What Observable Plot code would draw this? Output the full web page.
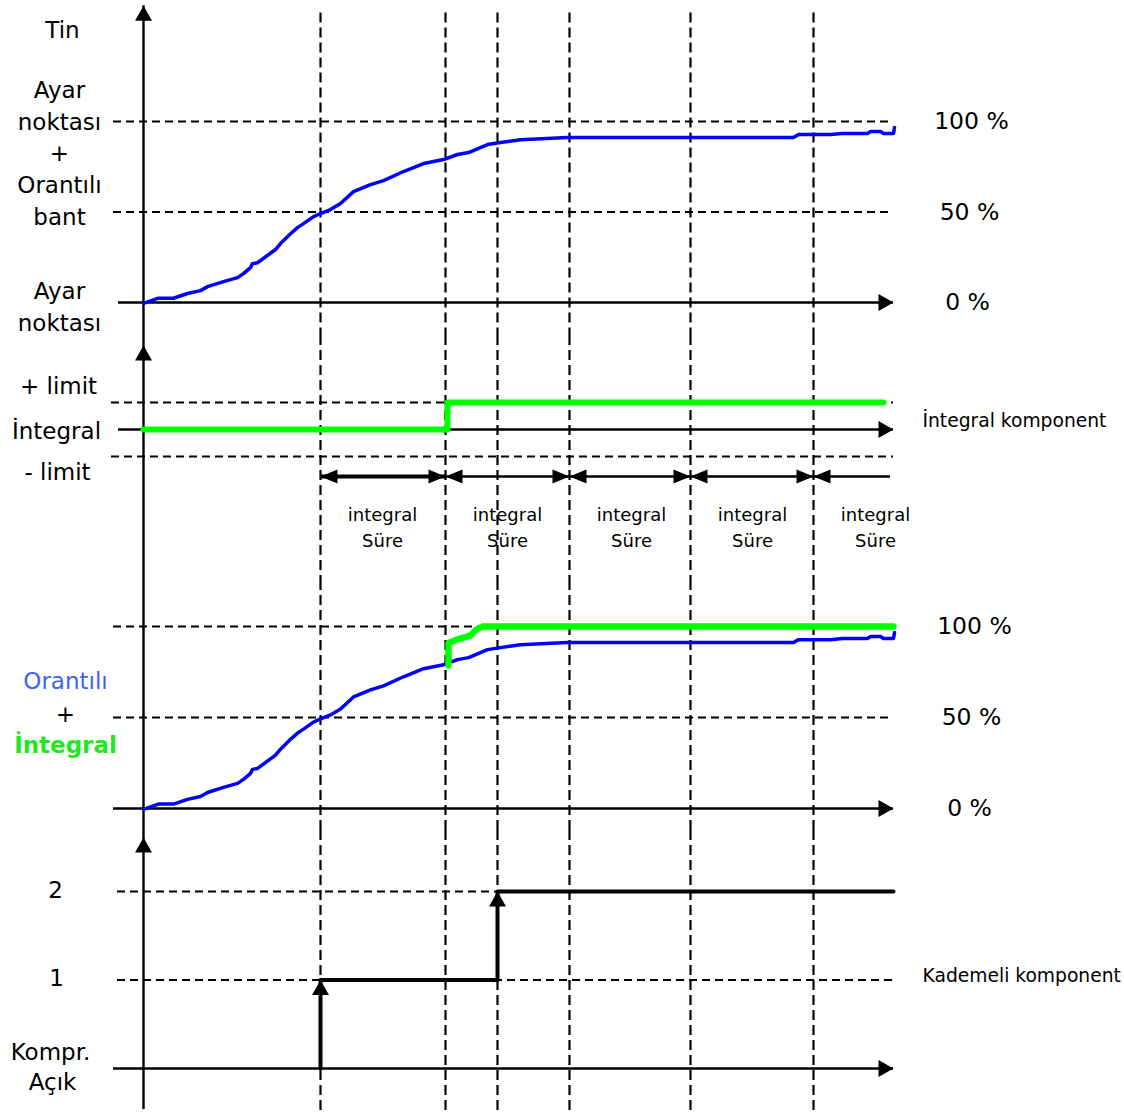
<!DOCTYPE html>
<html><head><meta charset="utf-8">
<script src="https://cdn.jsdelivr.net/npm/d3@7"></script>
<script src="https://cdn.jsdelivr.net/npm/@observablehq/plot@0.6"></script>
<style>
body{margin:0;background:#fff;}
#chart{width:1124px;}
#chart svg{display:block;}
</style></head><body><div id="chart"></div>
<script>
// ---------- data (time t in s from start, values in % or units) ----------
const gridTimes = [177, 302, 354, 426, 547, 670];          // vertical dashed lines
const periodBounds = [177, 302, 426, 547, 670, 747];       // integral time periods
const integralTime = 124;
const tEnd = 750;
const pctTicks = [0, 50, 100];
const pctLabels = ["0 %", "50 %", "100 %"];
const limitTicks = [-1, 1];
const stageTicks = [1, 2];

// Tin (proportional) response, %
const tinCurve = [[0,-0.5],[15,2.4],[30,2.4],[44,5],[57,6.6],[64,8.8],[80,11.6],[94,13.8],[100,16],[107,19.3],[109,21.5],[114,22],[132,29.3],[137,32.6],[147,38],[154,41.4],[160,43.6],[170,47.5],[177,49.2],[187,51.4],[197,54.7],[210,61.3],[227,65.2],[240,67.4],[260,72.4],[280,76.8],[300,79],[314,81.8],[325,82.9],[344,87.3],[357,88.4],[377,90],[424,91.2],[650,91.2],[655,92.8],[687,92.8],[699,93.4],[724,93.4],[727,94.5],[737,94.5],[740,93.4],[750,93.4],[751,96.7]];
// Integral component (limit units)
const integralStep = [[0,0],[304,0],[304,1],[740,1]];
// Proportional + integral, %
const piCurve = [[305,78.6],[305,91],[314,93],[327,95],[332,98],[339,100],[750,100]];
// Stage (compressor) steps
const stageSteps = [[177,0],[177,1],[354,1],[354,2],[750,2]];
const stageArrows = [[177,1],[354,2]];

// labels
const p1Left = [["Tin",-81,150.3],["Ayar",-84,117.1],["noktası",-84,99.4],["+",-84,82.3],["Orantılı",-84,64.6],["bant",-84,47],["Ayar",-84,6.1],["noktası",-84,-11.6]];
const p2Left = [["+ limit",-85,1.59],["İntegral",-87,-0.07],["- limit",-86,-1.59]];
const p4Left = [["2",-88,2.01],["1",-87,1.02],["Kompr.",-93,0.18],["Açık",-91,-0.16]];

// ---------- helpers ----------
const FONT = "DejaVu Sans";
const W = 1124, tDomain = [-143, 981];
const head = (L, w) => ({draw(ctx){ctx.moveTo(0,0);ctx.lineTo(-w,L);ctx.lineTo(w,L);ctx.closePath();}});
const bigHead = head(15, 8.5), smallHead = head(17, 7);
const dash = {stroke:"black", strokeWidth:2, strokeDasharray:"8,5"};
const vdash = {stroke:"black", strokeWidth:2.2, strokeDasharray:"10,5"};

function panel(height, yDomain, marks){
  return Plot.plot({
    width: W, height, margin: 0,
    x: {domain: tDomain, axis: null},
    y: {domain: yDomain, axis: null},
    style: {fontFamily: FONT, background: "white", overflow: "visible"},
    marks
  });
}
const hAxis = (x1) => [
  Plot.ruleY([0], {x1, x2: tEnd, stroke:"black", strokeWidth:2.4}),
  Plot.dot([[tEnd,0]], {symbol: bigHead, rotate: 90, fill:"black", stroke:null})
];
const leftText = (arr, opts={}) => Plot.text(arr, {x: d=>d[1], y: d=>d[2], text: d=>d[0], fontSize: 23, fill:"black", ...opts});
const rightPct = (xs) => Plot.text(pctTicks, {x: (d,i)=>xs[i], y: d=>d, text: (d,i)=>pctLabels[i], fontSize: 23.5, fill:"black"});

// ---------- panel 1: Tin ----------
const p1Dom = [-18.2, 166.9];
const p1 = panel(335, p1Dom, [
  Plot.ruleX(gridTimes, {x: d=>d, y1: 160, y2: p1Dom[0], ...vdash}),
  Plot.ruleY([50,100], {y: d=>d, x1: -30, x2: tEnd, ...dash}),
  ...hAxis(-25),
  Plot.ruleX([0], {y1: p1Dom[0], y2: 164, stroke:"black", strokeWidth:2.4}),
  Plot.dot([[0,164]], {symbol: bigHead, fill:"black", stroke:null}),
  Plot.line(tinCurve, {stroke:"#0000ff", strokeWidth:3.5}),
  leftText(p1Left),
  rightPct([824, 826, 828])
]);

// ---------- panel 2: integral component ----------
const p2Dom = [-5.59, 3.48];
const periods = d3.pairs(periodBounds);
const p2 = panel(245, p2Dom, [
  Plot.ruleX(gridTimes, {x: d=>d, ...vdash}),
  Plot.ruleY(limitTicks, {y: d=>d, x1: -32, x2: tEnd, ...dash}),
  ...hAxis(-25),
  Plot.ruleX([0], {stroke:"black", strokeWidth:2.4}),
  Plot.dot([[0,3.11]], {symbol: bigHead, fill:"black", stroke:null}),
  Plot.line(integralStep, {stroke:"#00ff00", strokeWidth:6, strokeLinecap:"round"}),
  Plot.ruleY(periods, {y: -1.74, x1: d=>d[0], x2: d=>d[1], stroke:"black", strokeWidth: (d,i)=> i===0 ? 3.8 : 2.6}),
  Plot.dot(periods, {x: d=>d[0], y: -1.74, symbol: smallHead, rotate: -90, fill:"black", stroke:null}),
  Plot.dot(periods.slice(0,-1), {x: d=>d[1], y: -1.74, symbol: smallHead, rotate: 90, fill:"black", stroke:null}),
  Plot.text(periods, {x: d=>d[0] + integralTime/2, y: -3.56, text: ()=>"integral\nSüre", lineHeight: 1.42, fontSize: 18, fill:"black"}),
  leftText(p2Left),
  Plot.text(["İntegral komponent"], {x: 779, y: 0.33, text: d=>d, textAnchor:"start", fontSize: 18.7, fill:"black"})
]);

// ---------- panel 3: proportional + integral ----------
const p3Dom = [-12.1, 125.3];
const p3 = panel(250, p3Dom, [
  Plot.ruleX(gridTimes, {x: d=>d, ...vdash}),
  Plot.ruleY([50,100], {y: d=>d, x1: -30, x2: tEnd, ...dash}),
  ...hAxis(-30),
  Plot.ruleX([0], {stroke:"black", strokeWidth:2.4}),
  Plot.line(tinCurve, {stroke:"#0000ff", strokeWidth:3.5}),
  Plot.line(piCurve, {stroke:"#00ff00", strokeWidth:6.5, strokeLinecap:"round", strokeLinejoin:"round"}),
  Plot.text([["Orantılı",69.8]], {x: -78, y: d=>d[1], text: d=>d[0], fontSize: 23, fill:"#3f63f0"}),
  Plot.text([["+",51.6]], {x: -78, y: d=>d[1], text: d=>d[0], fontSize: 23, fill:"black"}),
  Plot.text([["İntegral",34.6]], {x: -78, y: d=>d[1], text: d=>d[0], fontSize: 23, fontWeight:"bold", fill:"#1ee81e"}),
  rightPct([826, 828, 831])
]);

// ---------- panel 4: stage component ----------
const p4Dom = [-0.508, 2.689];
const p4 = panel(283, p4Dom, [
  Plot.ruleX(gridTimes, {x: d=>d, ...vdash}),
  Plot.ruleY(stageTicks, {y: d=>d, x1: -26, x2: tEnd, ...dash}),
  ...hAxis(-30),
  Plot.ruleX([0], {y1: -0.463, y2: p4Dom[1], stroke:"black", strokeWidth:2.4}),
  Plot.dot([[0,2.61]], {symbol: bigHead, fill:"black", stroke:null}),
  Plot.line(stageSteps, {stroke:"black", strokeWidth:4}),
  Plot.dot(stageArrows, {symbol: bigHead, fill:"black", stroke:null}),
  leftText(p4Left),
  Plot.text(["Kademeli komponent"], {x: 779, y: 1.05, text: d=>d, textAnchor:"start", fontSize: 18.7, fill:"black"})
]);

const root = document.getElementById("chart");
[p1, p2, p3, p4].forEach(p => root.appendChild(p));
</script>
</body></html>
